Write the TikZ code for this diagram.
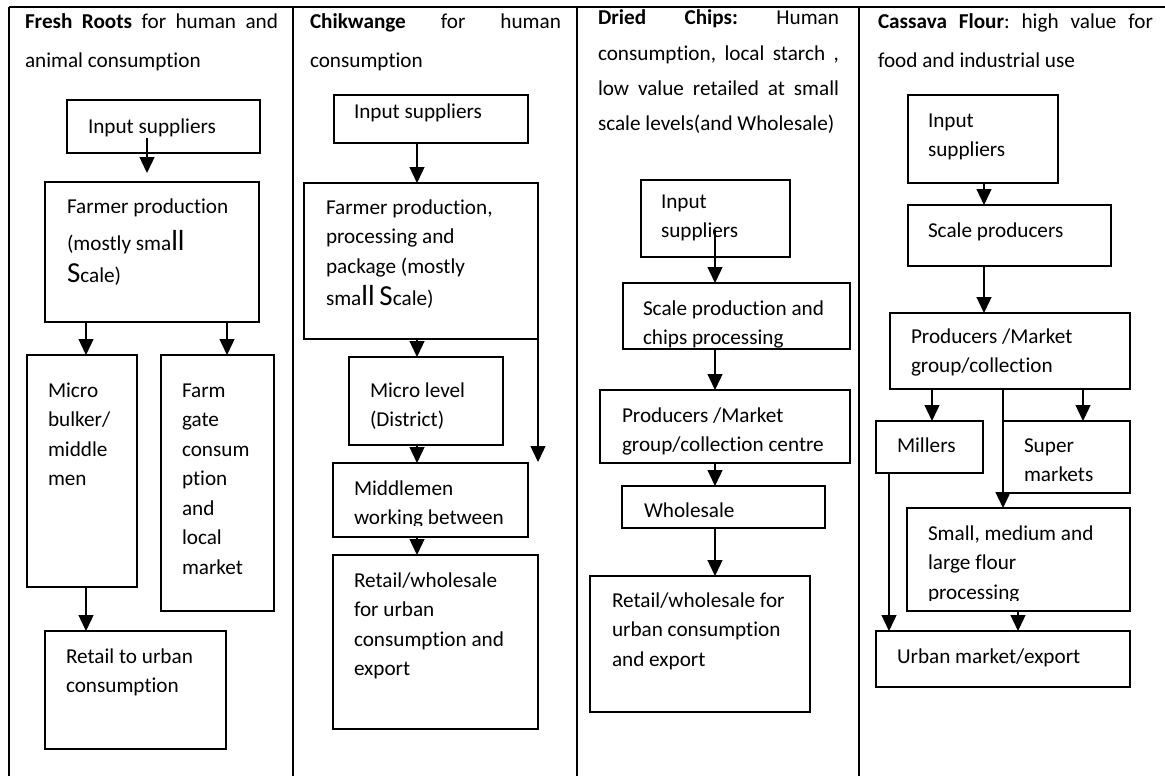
\documentclass[tikz,border=0pt]{standalone}
\usepackage{fontspec}
\setmainfont[Ligatures=NoCommon]{Carlito}
\usetikzlibrary{arrows.meta,calc}

\tikzset{
  rule/.style={line width=2pt},
  cell/.style={draw, line width=1.4pt, inner sep=0pt, outer sep=0pt, anchor=north west},
  lbl/.style={inner sep=0pt, outer sep=0pt, anchor=base west, font=\fontsize{21.2}{29.5}\selectfont},
  head/.style={inner sep=0pt, outer sep=0pt, anchor=base west, font=\fontsize{21.2}{39}\selectfont},
  headtight/.style={head, font=\fontsize{21.2}{35.3}\selectfont},
  flow/.style={line width=1.3pt, -{Triangle[length=16pt,width=15pt]}},
}

% rectangle given by its top-left and bottom-right corners
\newcommand\cellbox[5]{\node[cell, minimum width={#4-#2}, minimum height={#5-#3}] (#1) at (#2,#3) {};}
% left-aligned text block, first baseline at the given point
\newcommand\celltext[4]{\node[lbl] (#1) at (#2,#3) {\parbox[t]{320pt}{\raggedright #4}};}
% taller glyphs set in a larger size
\newcommand\tallglyph[1]{{\fontsize{29}{29}\selectfont #1}}

\begin{document}
\begin{tikzpicture}[x=1pt,y=-1pt]
\useasboundingbox (0,0) rectangle (1165,776);

% table frame
\draw[rule] (9,7) -- (1165,7);
\draw[rule] (9,7) -- (9,776);
\draw[rule] (293,7) -- (293,776);
\draw[rule] (577,7) -- (577,776);
\draw[rule] (859,7) -- (859,776);

% column headings
\node[head] (h1) at (25,29) {\parbox[t]{253pt}{\makebox[253pt]{\textbf{Fresh}\hfill\textbf{Roots}\hfill for\hfill human\hfill and}\\animal consumption}};
\node[head] (h2) at (310,29) {\parbox[t]{251pt}{\makebox[251pt]{\textbf{Chikwange}\hfill for\hfill human}\\consumption}};
\node[headtight] (h3) at (598,25) {\parbox[t]{241pt}{\makebox[241pt]{\textbf{Dried}\hfill\textbf{Chips:}\hfill Human}\\\makebox[241pt]{consumption,\hfill local\hfill starch\hfill ,}\\\makebox[241pt]{low\hfill value\hfill retailed\hfill at\hfill small}\\scale levels(and Wholesale)}};
\node[head] (h4) at (878,29) {\parbox[t]{275pt}{\makebox[275pt]{\textbf{Cassava}\hfill\textbf{Flour}:\hfill high\hfill value\hfill for}\\food and industrial use}};

% ---- Fresh roots ----
\cellbox{in1}{67}{100}{260}{153}
\celltext{in1t}{88}{133}{Input suppliers}
\cellbox{fp1}{45}{182}{259}{322}
\celltext{fp1t}{67}{213}{Farmer production\\[8pt](mostly sma\tallglyph{ll}\\[2pt]\tallglyph{S}cale)}
\cellbox{mb1}{27}{355}{137}{587}
\celltext{mb1t}{48}{397}{Micro\\bulker/\\middle\\men}
\cellbox{fg1}{161}{355}{274}{611}
\celltext{fg1t}{182}{397}{Farm\\gate\\consum\\ption\\and\\local\\market}
\cellbox{rt1}{45}{631}{226}{749}
\celltext{rt1t}{66}{663}{Retail to urban\\consumption}

\draw[flow] ($(in1.south west)+(80,-15)$) coordinate (p) -- ($(p |- fp1.north)+(0,-9)$);
\draw[flow] ($(fp1.south west)+(41,0)$) coordinate (p) -- (p |- mb1.north);
\draw[flow] ($(fp1.south west)+(182,0)$) coordinate (p) -- (p |- fg1.north);
\draw[flow] ($(mb1.south west)+(59,0)$) coordinate (p) -- (p |- rt1.north);

% ---- Chikwange ----
\cellbox{in2}{334}{95}{528}{143}
\celltext{in2t}{354}{118}{Input suppliers}
\cellbox{fp2}{304}{183}{538}{339}
\celltext{fp2t}{326}{214}{Farmer production,\\processing and\\package (mostly\\[3pt]sma\tallglyph{ll} \tallglyph{S}cale)}
\cellbox{ml2}{349}{357}{503}{445}
\celltext{ml2t}{370}{397}{Micro level\\(District)}
\cellbox{mm2}{333}{463}{528}{537}
\begin{scope}
  \clip (333,463) rectangle (528,525);
  \celltext{mm2t}{354}{495}{Middlemen\\working between}
\end{scope}
\cellbox{rw2}{333}{555}{538}{729}
\celltext{rw2t}{354}{587}{Retail/wholesale\\for urban\\consumption and\\export}

\draw[flow] ($(in2.south west)+(83,0)$) coordinate (p) -- (p |- fp2.north);
\draw[flow] ($(fp2.south west)+(113,0)$) coordinate (p) -- (p |- ml2.north);
\coordinate (fp2end) at ($(fp2.south east)+(0,123)$);
\draw[flow] (fp2.south east) -- (fp2end);
\draw[flow] ($(ml2.south west)+(68,0)$) coordinate (p) -- (p |- mm2.north);
\draw[flow] ($(mm2.south west)+(84,0)$) coordinate (p) -- (p |- rw2.north);

% ---- Dried chips ----
\cellbox{in3}{641}{180}{790}{257}
\celltext{in3t}{661}{208}{Input\\suppliers}
\cellbox{sp3}{623}{283}{850}{349}
\celltext{sp3t}{643}{315}{Scale production and\\chips processing}
\cellbox{pm3}{600}{390}{850}{463}
\celltext{pm3t}{622}{422}{Producers /Market\\group/collection centre}
\cellbox{ws3}{622}{486}{825}{528}
\celltext{ws3t}{644}{517}{Wholesale}
\cellbox{rw3}{590}{576}{810}{712}
\celltext{rw3t}{612}{607}{Retail/wholesale for\\urban consumption\\and export}

\draw[flow] ($(in3.south west)+(74,-27)$) coordinate (p) -- (p |- sp3.north);
\draw[flow] ($(sp3.south west)+(92,0)$) coordinate (p) -- (p |- pm3.north);
\draw[flow] ($(pm3.south west)+(115,0)$) coordinate (p) -- (p |- ws3.north);
\draw[flow] ($(ws3.south west)+(93,0)$) coordinate (p) -- (p |- rw3.north);

% ---- Cassava flour ----
\cellbox{in4}{908}{95}{1058}{183}
\celltext{in4t}{928}{127}{Input\\suppliers}
\cellbox{sc4}{908}{205}{1111}{266}
\celltext{sc4t}{928}{237}{Scale producers}
\cellbox{pm4}{890}{313}{1130}{389}
\celltext{pm4t}{911}{343}{Producers /Market\\group/collection}
\cellbox{mi4}{876}{421}{983}{473}
\celltext{mi4t}{897}{452}{Millers}
\cellbox{su4}{1003}{421}{1130}{493}
\celltext{su4t}{1024}{452}{Super\\markets}
\cellbox{sm4}{907}{508}{1130}{611}
\begin{scope}
  \clip (907,508) rectangle (1130,600);
  \celltext{sm4t}{928}{540}{Small, medium and\\large flour\\processing}
\end{scope}
\cellbox{um4}{876}{631}{1130}{687}
\celltext{um4t}{897}{663}{Urban market/export}

\draw[flow] ($(in4.south west)+(76,0)$) coordinate (p) -- (p |- sc4.north);
\draw[flow] ($(sc4.south west)+(76,0)$) coordinate (p) -- (p |- pm4.north);
\draw[flow] ($(pm4.south west)+(42,0)$) coordinate (p) -- (p |- mi4.north);
\draw[flow] ($(pm4.south west)+(193,0)$) coordinate (p) -- (p |- su4.north);
\draw[flow] ($(pm4.south west)+(113,0)$) coordinate (p) -- (p |- sm4.north);
\draw[flow] ($(mi4.south west)+(13,0)$) coordinate (p) -- (p |- um4.north);
\draw[flow] ($(sm4.south west)+(111,0)$) coordinate (p) -- (p |- um4.north);
\end{tikzpicture}
\end{document}
